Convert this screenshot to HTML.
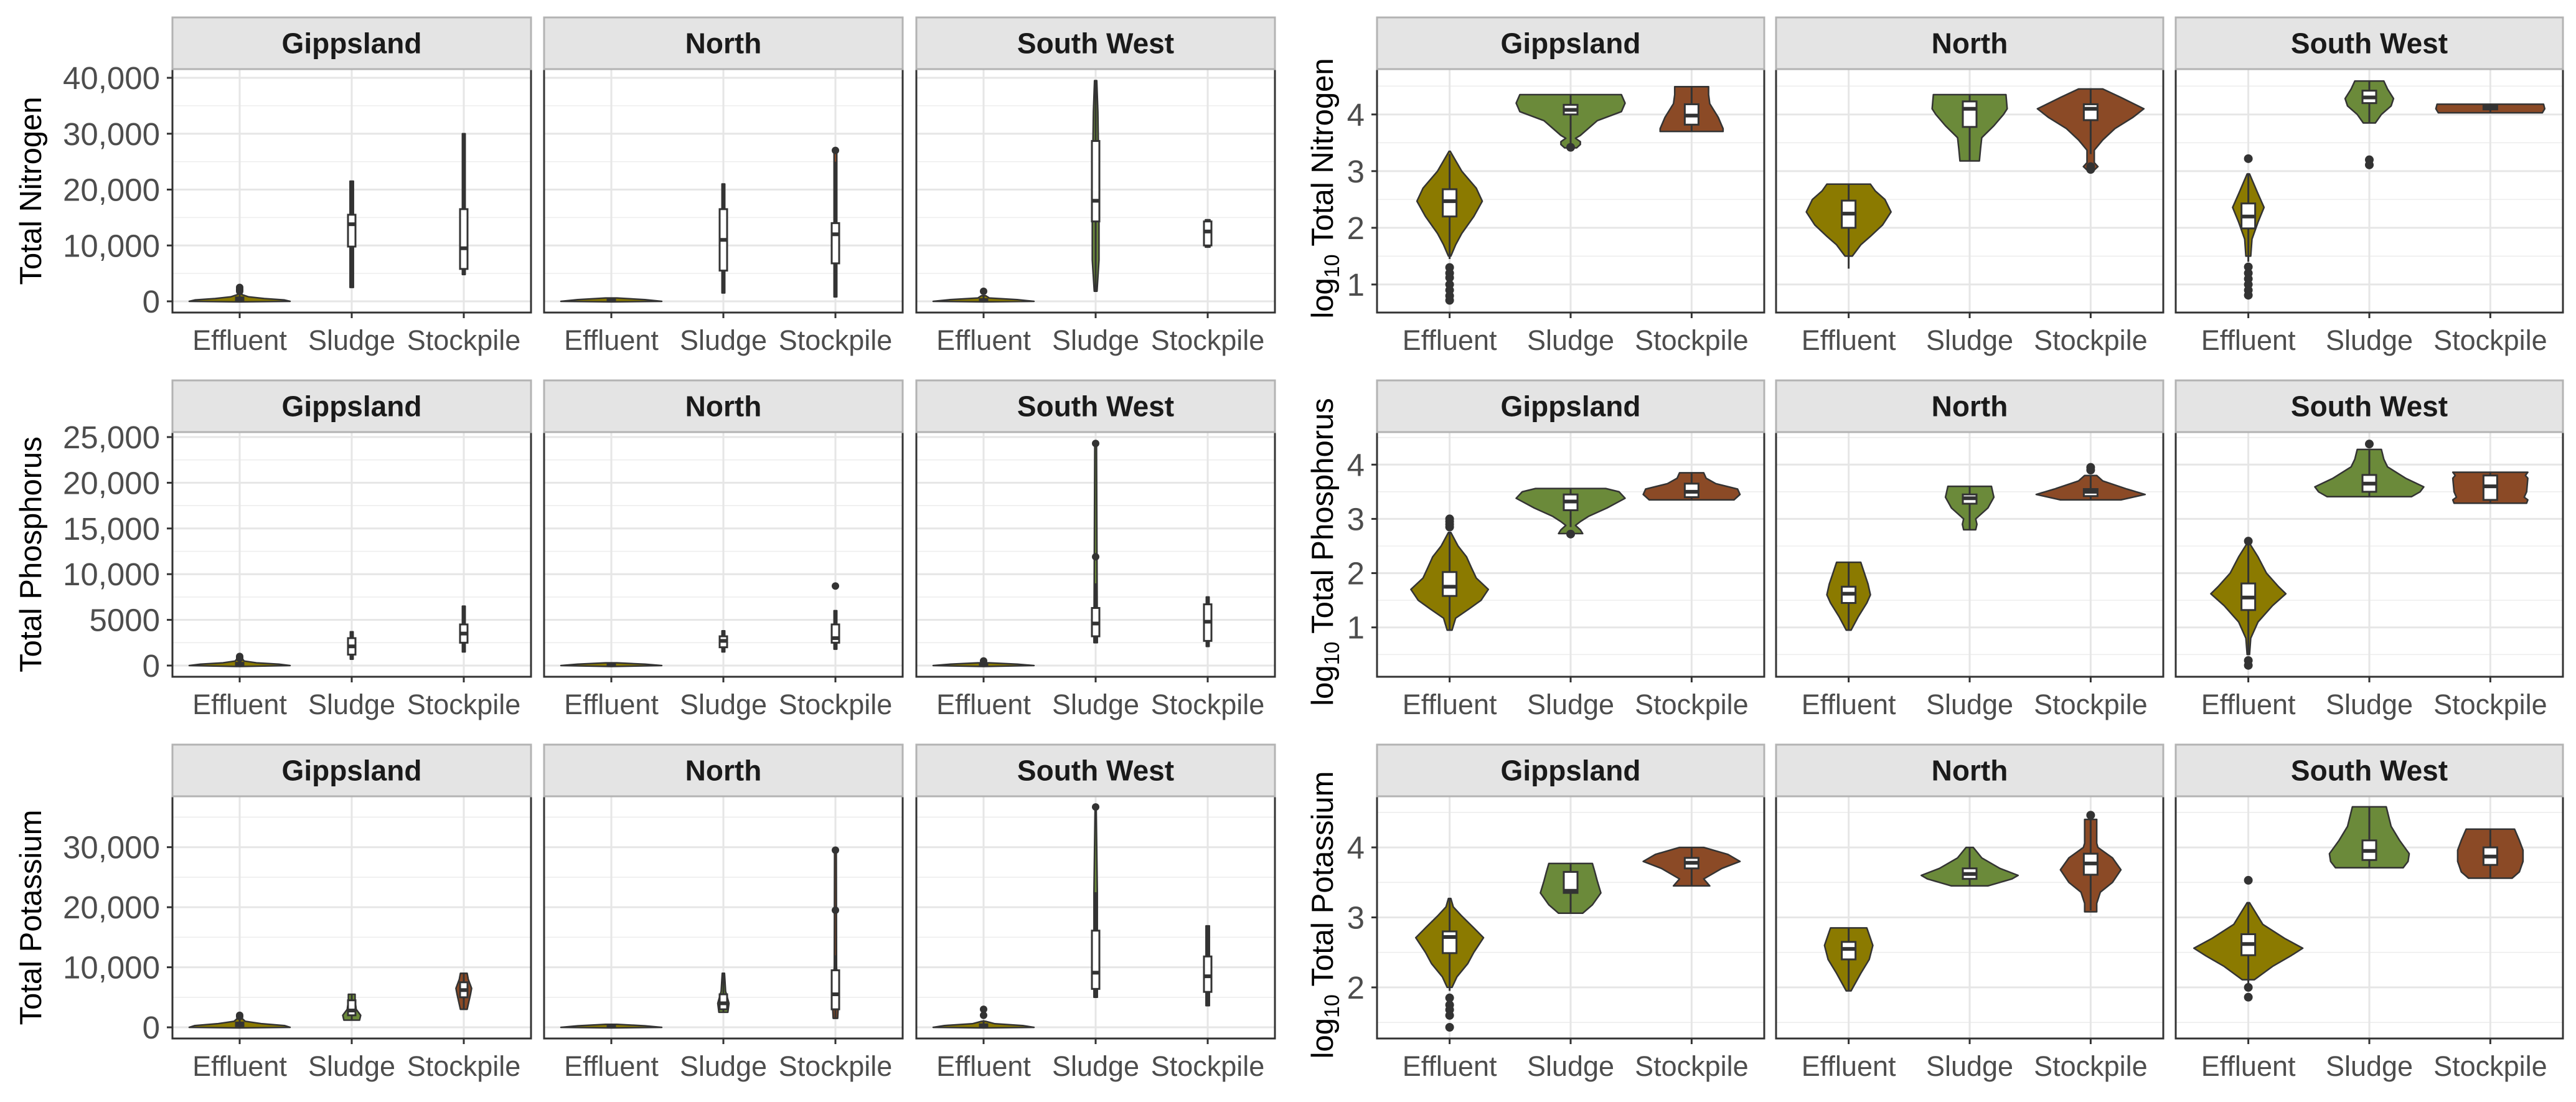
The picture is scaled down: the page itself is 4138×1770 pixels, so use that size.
<!DOCTYPE html>
<html><head><meta charset="utf-8"><style>
html,body{margin:0;padding:0;background:#fff;}
svg{display:block;font-family:"Liberation Sans",Arial,sans-serif;}
</style></head><body>
<svg id="chart" width="4138" height="1770" viewBox="0 0 4138 1770" xmlns="http://www.w3.org/2000/svg"></svg>
<script>
const categories = ["Effluent","Sludge","Stockpile"];
const regions = ["Gippsland","North","South West"];
const nutrients = ["Nitrogen","Phosphorus","Potassium"];
const fillColors = ["#8b7a00","#6b8a3a","#8b4a26"];

const leftDomains = [[-2005,41560],[-1226,25545],[-1860,38470]];
const rightDomains = [[0.505,4.80],[0.09,4.60],[1.27,4.73]];
const leftTicks = [[0,10000,20000,30000,40000],[0,5000,10000,15000,20000,25000],[0,10000,20000,30000]];
const leftTickLabels = [["0","10,000","20,000","30,000","40,000"],["0","5000","10,000","15,000","20,000","25,000"],["0","10,000","20,000","30,000"]];
const rightTicks = [[1,2,3,4],[1,2,3,4],[2,3,4]];
const rightTickLabels = [["1","2","3","4"],["1","2","3","4"],["2","3","4"]];

/* violin profiles: [value, half-width in category units]; boxes: [lo, q1, median, q3, hi] */
const rightN_profiles = [
 [[[1.5,0.01],[1.7,0.05],[1.9,0.1],[2.2,0.2],[2.47,0.27],[2.7,0.22],[3.0,0.1],[3.35,0.005]],
  [[3.41,0.05],[3.47,0.08],[3.52,0.08],[3.58,0.04],[3.63,0.08],[3.89,0.22],[4.05,0.42],[4.2,0.45],[4.35,0.42]],
  [[3.70,0.26],[3.75,0.26],[3.95,0.22],[4.19,0.15],[4.35,0.14],[4.49,0.14]]],
 [[[1.5,0.03],[1.7,0.1],[1.85,0.18],[2.05,0.28],[2.28,0.35],[2.5,0.3],[2.65,0.22],[2.77,0.18]],
  [[3.18,0.08],[3.4,0.09],[3.59,0.1],[3.8,0.2],[4.0,0.28],[4.1,0.31],[4.35,0.30]],
  [[3.0,0.02],[3.08,0.06],[3.15,0.03],[3.37,0.03],[3.55,0.1],[3.75,0.2],[3.95,0.35],[4.1,0.44],[4.3,0.25],[4.45,0.1]]],
 [[[1.5,0.02],[1.8,0.03],[2.1,0.08],[2.36,0.13],[2.6,0.08],[2.95,0.01]],
  [[3.85,0.05],[4.0,0.1],[4.15,0.18],[4.28,0.2],[4.45,0.15],[4.59,0.12]],
  [[4.03,0.43],[4.1,0.45],[4.18,0.44]]]
];
const rightN_boxes = [
 [[1.45,2.2,2.47,2.68,3.3],[3.45,4.0,4.08,4.17,4.35],[3.7,3.82,3.98,4.18,4.49]],
 [[1.28,2.0,2.25,2.48,2.77],[3.18,3.78,4.1,4.23,4.35],[3.3,3.9,4.1,4.18,4.45]],
 [[1.4,1.99,2.2,2.43,2.95],[3.85,4.2,4.3,4.42,4.59],[4.03,4.09,4.12,4.15,4.18]]
];
const rightN_outliers = [
 [[1.3,1.2,1.12,1.0,0.9,0.8,0.72],[3.42],[]],
 [[],[],[3.03,3.08]],
 [[3.22,1.31,1.2,1.1,1.0,0.9,0.81],[3.11,3.2],[]]
];

const rightP_profiles = [
 [[[0.95,0.02],[1.17,0.05],[1.34,0.16],[1.5,0.26],[1.7,0.32],[1.91,0.22],[2.1,0.18],[2.3,0.14],[2.5,0.07],[2.75,0.01]],
  [[2.73,0.1],[2.8,0.08],[2.88,0.04],[2.95,0.08],[3.05,0.15],[3.2,0.3],[3.38,0.45],[3.5,0.4],[3.56,0.29]],
  [[3.35,0.35],[3.45,0.4],[3.55,0.38],[3.65,0.2],[3.75,0.12],[3.85,0.1]]],
 [[[0.95,0.02],[1.2,0.08],[1.45,0.15],[1.6,0.18],[1.8,0.16],[2.0,0.13],[2.2,0.1]],
  [[2.8,0.05],[2.9,0.06],[3.0,0.05],[3.2,0.15],[3.4,0.2],[3.5,0.19],[3.6,0.18]],
  [[3.35,0.25],[3.45,0.45],[3.55,0.3],[3.7,0.1],[3.8,0.05]]],
 [[[0.5,0.01],[0.8,0.02],[1.1,0.08],[1.4,0.2],[1.62,0.31],[1.75,0.25],[2.0,0.15],[2.3,0.08],[2.55,0.01]],
  [[3.41,0.35],[3.5,0.42],[3.59,0.45],[3.75,0.3],[3.96,0.15],[4.1,0.12],[4.28,0.1]],
  [[3.29,0.3],[3.35,0.31],[3.4,0.28],[3.5,0.3],[3.75,0.31],[3.8,0.29],[3.86,0.31]]]
];
const rightP_boxes = [
 [[0.95,1.58,1.75,2.02,2.75],[2.85,3.16,3.32,3.45,3.56],[3.35,3.4,3.5,3.65,3.85]],
 [[0.95,1.45,1.62,1.75,2.2],[2.8,3.28,3.38,3.45,3.6],[3.35,3.42,3.5,3.55,3.8]],
 [[0.5,1.32,1.55,1.81,2.55],[3.41,3.5,3.65,3.81,4.28],[3.29,3.35,3.6,3.8,3.86]]
];
const rightP_outliers = [
 [[2.85,2.9,2.95,3.0],[2.72],[]],
 [[],[],[3.9,3.95]],
 [[0.39,0.3,2.59],[4.38],[]]
];

const rightK_profiles = [
 [[[2.0,0.02],[2.15,0.06],[2.34,0.15],[2.5,0.2],[2.71,0.28],[2.85,0.2],[3.02,0.1],[3.15,0.03],[3.27,0.01]],
  [[3.06,0.1],[3.18,0.18],[3.35,0.25],[3.52,0.22],[3.65,0.2],[3.77,0.18]],
  [[3.45,0.15],[3.55,0.1],[3.7,0.25],[3.8,0.4],[3.9,0.3],[4.0,0.1]]],
 [[[1.95,0.02],[2.2,0.1],[2.4,0.17],[2.6,0.2],[2.75,0.17],[2.85,0.15]],
  [[3.45,0.15],[3.55,0.35],[3.6,0.4],[3.7,0.25],[3.85,0.1],[4.0,0.03]],
  [[3.08,0.05],[3.2,0.05],[3.36,0.08],[3.5,0.18],[3.68,0.25],[3.85,0.18],[4.0,0.06],[4.06,0.05],[4.4,0.05]]],
 [[[2.11,0.05],[2.3,0.2],[2.45,0.35],[2.56,0.45],[2.7,0.3],[2.9,0.12],[3.21,0.01]],
  [[3.71,0.28],[3.8,0.32],[3.91,0.33],[4.1,0.25],[4.3,0.18],[4.58,0.14]],
  [[3.56,0.18],[3.65,0.24],[3.8,0.27],[3.96,0.27],[4.1,0.24],[4.26,0.2]]]
];
const rightK_boxes = [
 [[1.95,2.49,2.72,2.8,3.27],[3.06,3.35,3.38,3.65,3.77],[3.45,3.7,3.78,3.85,4.0]],
 [[1.95,2.4,2.55,2.65,2.85],[3.45,3.55,3.62,3.7,4.0],[3.1,3.61,3.77,3.91,4.4]],
 [[2.05,2.46,2.62,2.76,3.21],[3.71,3.82,3.95,4.1,4.58],[3.56,3.75,3.87,4.0,4.26]]
];
const rightK_outliers = [
 [[1.85,1.75,1.68,1.6,1.43],[],[]],
 [[],[],[4.46]],
 [[3.53,2.0,1.86],[],[]]
];

const leftN_profiles = [
 [[[-100,0],[0,0.45],[250,0.4],[500,0.22],[800,0.08],[1200,0.02],[2500,0.01]],
  [[2500,0.015],[21500,0.015]],
  [[4800,0.012],[30000,0.012]]],
 [[[-100,0],[0,0.45],[300,0.3],[600,0.05]],
  [[1500,0.012],[21000,0.012]],
  [[800,0.012],[27000,0.012]]],
 [[[-100,0],[0,0.45],[300,0.3],[600,0.05],[1000,0.02]],
  [[1800,0.012],[7400,0.03],[20000,0.03],[33900,0.02],[39500,0.01]],
  [[9700,0.02],[14600,0.02]]]
];
const leftN_boxes = [
 [[0,100,300,700,1500],[2500,9800,13800,15500,21500],[4800,5800,9500,16500,30000]],
 [[0,100,200,400,600],[1500,5500,11000,16500,21000],[800,6800,12000,14000,25000]],
 [[0,100,200,400,1000],[1800,14300,18000,28700,39500],[9700,10000,12500,14300,14600]]
];
const leftN_outliers = [
 [[1800,2000,2200,2500],[],[]],
 [[],[],[27000]],
 [[1800],[],[]]
];

const leftP_profiles = [
 [[[-100,0],[0,0.45],[150,0.35],[300,0.15],[500,0.04],[800,0.02]],
  [[700,0.012],[3700,0.012]],
  [[1500,0.012],[6500,0.012]]],
 [[[-100,0],[0,0.45],[150,0.3],[300,0.05]],
  [[1500,0.012],[3800,0.012]],
  [[1800,0.012],[6000,0.012]]],
 [[[-100,0],[0,0.45],[150,0.3],[300,0.05]],
  [[2500,0.015],[24300,0.008]],
  [[2100,0.012],[7500,0.012]]]
];
const leftP_boxes = [
 [[0,50,100,300,600],[700,1200,2100,3000,3700],[1500,2500,3500,4500,6500]],
 [[0,50,100,200,300],[1500,2000,2700,3200,3800],[1800,2500,3000,4500,6000]],
 [[0,50,100,200,300],[2500,3200,4600,6300,9000],[2100,2700,4800,6700,7500]]
];
const leftP_outliers = [
 [[800,900,1000],[],[]],
 [[],[],[8700]],
 [[500],[11900,24300],[]]
];

const leftK_profiles = [
 [[[-100,0],[0,0.45],[300,0.4],[600,0.2],[1000,0.05],[1500,0.02]],
  [[1200,0.07],[2000,0.08],[3000,0.04],[4500,0.03],[5500,0.03]],
  [[3000,0.03],[5500,0.06],[6500,0.07],[8000,0.04],[9000,0.03]]],
 [[[-100,0],[0,0.45],[250,0.3],[500,0.05]],
  [[2500,0.04],[4000,0.05],[6000,0.02],[9000,0.01]],
  [[1500,0.02],[5000,0.03],[10000,0.01],[29500,0.008]]],
 [[[-100,0],[0,0.45],[300,0.35],[600,0.1],[1000,0.02]],
  [[5000,0.015],[22500,0.015],[36700,0.005]],
  [[3600,0.015],[16900,0.015]]]
];
const leftK_boxes = [
 [[0,200,400,800,1500],[1200,2000,2800,4500,5500],[3000,5000,6200,7500,9000]],
 [[0,100,200,350,500],[2500,3000,4000,5500,9000],[1500,3000,5500,9500,12000]],
 [[0,100,300,500,1200],[5000,6400,9100,16100,22500],[3600,5900,8500,11800,16900]]
];
const leftK_outliers = [
 [[1800,2000],[],[]],
 [[],[],[19500,29500]],
 [[2000,3000],[36700],[]]
];

const leftProfiles=[leftN_profiles,leftP_profiles,leftK_profiles];
const leftBoxes=[leftN_boxes,leftP_boxes,leftK_boxes];
const leftOutliers=[leftN_outliers,leftP_outliers,leftK_outliers];
const rightProfiles=[rightN_profiles,rightP_profiles,rightK_profiles];
const rightBoxes=[rightN_boxes,rightP_boxes,rightK_boxes];
const rightOutliers=[rightN_outliers,rightP_outliers,rightK_outliers];

/* layout */
const NS="http://www.w3.org/2000/svg";
const svg=document.getElementById('chart');
const leftX=[277,874,1472], leftW=576;
const rightX=[2212,2853,3495], rightW=622;
const stripTop=[28,611,1196], stripH=83;
const panelBottom=[502,1087,1668];

function mk(tag,attrs,parent){const e=document.createElementNS(NS,tag);for(const k in attrs)e.setAttribute(k,attrs[k]);(parent||svg).appendChild(e);return e;}

function drawPanel(side,row,reg){
  const isLeft=side==='left';
  const x0=isLeft?leftX[reg]:rightX[reg], w=isLeft?leftW:rightW;
  const top=stripTop[row]+stripH, bot=panelBottom[row];
  const dom=isLeft?leftDomains[row]:rightDomains[row];
  const ticks=isLeft?leftTicks[row]:rightTicks[row];
  const tlabels=isLeft?leftTickLabels[row]:rightTickLabels[row];
  const yS=v=>bot-(v-dom[0])/(dom[1]-dom[0])*(bot-top);
  const catW=w*0.3125;
  const xS=i=>x0+w*(0.1875+i*0.3125);
  const g=mk('g',{});
  
  
  mk('rect',{x:x0,y:top,width:w,height:bot-top,fill:'#fff'},g);
  const step=ticks[1]-ticks[0];
  const minors=[];
  for(let i=-1;i<ticks.length;i++){const m=ticks[0]+step*(i+0.5);if(m>dom[0]&&m<dom[1])minors.push(m);}
  minors.forEach(m=>{const l=mk('line',{x1:x0,x2:x0+w,y1:yS(m),y2:yS(m),stroke:'#ededed','stroke-width':1.6},g);
    });
  ticks.forEach(t=>{const l=mk('line',{x1:x0,x2:x0+w,y1:yS(t),y2:yS(t),stroke:'#e6e6e6','stroke-width':3},g);
    });
  categories.forEach((c,i)=>{const l=mk('line',{x1:xS(i),x2:xS(i),y1:top,y2:bot,stroke:'#e6e6e6','stroke-width':3},g);
    });
  const profs=(isLeft?leftProfiles:rightProfiles)[row][reg];
  const boxes=(isLeft?leftBoxes:rightBoxes)[row][reg];
  const outs=(isLeft?leftOutliers:rightOutliers)[row][reg];
  const boxHalf=isLeft?6:11;
  categories.forEach((c,i)=>{
    const cx=xS(i);
    const p=profs[i];
    const pts=p.map(d=>[cx+d[1]*catW,yS(d[0])]).concat(p.slice().reverse().map(d=>[cx-d[1]*catW,yS(d[0])]));
    const v=mk('polygon',{points:pts.map(q=>q[0].toFixed(1)+','+q[1].toFixed(1)).join(' '),fill:fillColors[i],stroke:'#333','stroke-width':2.5,'stroke-linejoin':'round'},g);
    
    
    const b=boxes[i];
    const wh=mk('line',{x1:cx,x2:cx,y1:yS(b[0]),y2:yS(b[4]),stroke:'#333','stroke-width':3},g);
    
    
    const bx=mk('rect',{x:cx-boxHalf,y:yS(b[3]),width:boxHalf*2,height:Math.max(1,yS(b[1])-yS(b[3])),fill:'#fff',stroke:'#333','stroke-width':3},g);
    
    
    const md=mk('line',{x1:cx-boxHalf,x2:cx+boxHalf,y1:yS(b[2]),y2:yS(b[2]),stroke:'#333','stroke-width':6},g);
    
    
    outs[i].forEach(o=>{const pt=mk('circle',{cx:cx,cy:yS(o),r:isLeft?6:7,fill:'#333'},g);
      });
  });
  mk('rect',{x:x0,y:top,width:w,height:bot-top,fill:'none',stroke:'#333','stroke-width':3},g);
  const st=mk('rect',{x:x0,y:stripTop[row],width:w,height:stripH,fill:'#e4e4e4',stroke:'#b3b3b3','stroke-width':3},g);
  
  
  const stt=mk('text',{x:x0+w/2,y:stripTop[row]+stripH/2+16,'text-anchor':'middle','font-size':46,'font-weight':'bold',fill:'#1a1a1a'},g);
  stt.textContent=regions[reg];
  
  
  categories.forEach((c,i)=>{
    mk('line',{x1:xS(i),x2:xS(i),y1:bot,y2:bot+9,stroke:'#333','stroke-width':3},g);
    const t=mk('text',{x:xS(i),y:bot+60,'text-anchor':'middle','font-size':45,fill:'#4d4d4d'},g);
    t.textContent=c;
    
    
  });
  if(reg===0){
    ticks.forEach((tv,k)=>{
      mk('line',{x1:x0-9,x2:x0,y1:yS(tv),y2:yS(tv),stroke:'#333','stroke-width':3},g);
      const t=mk('text',{x:x0-20,y:yS(tv)+18,'text-anchor':'end','font-size':51,fill:'#4d4d4d'},g);
      t.textContent=tlabels[k];
      
      
    });
  }
}

for(let r=0;r<3;r++){
  for(let j=0;j<3;j++){drawPanel('left',r,j);drawPanel('right',r,j);}
  const cy=(stripTop[r]+stripH+panelBottom[r])/2;
  const lt=mk('text',{x:0,y:0,'text-anchor':'middle','font-size':49,fill:'#000',transform:'translate(66,'+cy+') rotate(-90)'});
  lt.textContent='Total '+nutrients[r];
  
  
  const rt=mk('text',{x:0,y:0,'text-anchor':'middle','font-size':49,fill:'#000',transform:'translate(2141,'+(cy-4)+') rotate(-90)'});
  const s1=mk('tspan',{},rt);s1.textContent='log';
  const s2=mk('tspan',{dy:10,'font-size':34},rt);s2.textContent='10';
  const s3=mk('tspan',{dy:-10},rt);s3.textContent=' Total '+nutrients[r];
  
  
}
</script>
</body></html>
